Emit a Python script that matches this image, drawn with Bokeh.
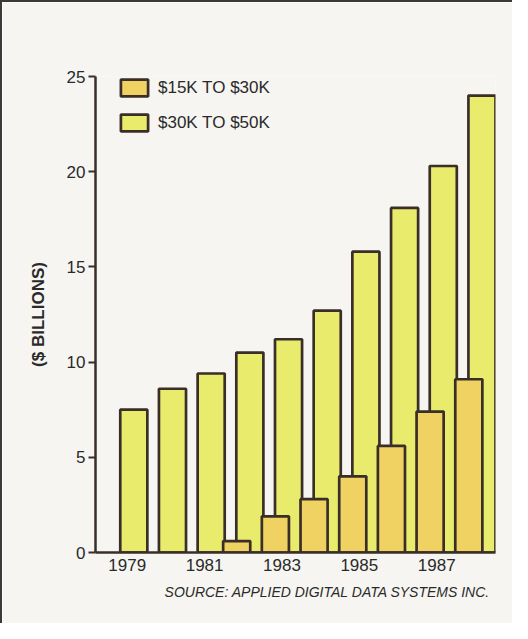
from bokeh.plotting import figure
from bokeh.models import Legend, LegendItem, FixedTicker, Title, ColumnDataSource
from bokeh.transform import dodge
from bokeh.embed import file_html
from bokeh.resources import INLINE

# ---- data ----
years = [1979, 1980, 1981, 1982, 1983, 1984, 1985, 1986, 1987, 1988]
high_values = [7.5, 8.6, 9.4, 10.5, 11.2, 12.7, 15.8, 18.1, 20.3, 24.0]   # $30K TO $50K
low_years = [1982, 1983, 1984, 1985, 1986, 1987, 1988]
low_values = [0.6, 1.9, 2.8, 4.0, 5.6, 7.4, 9.1]                          # $15K TO $30K
tick_years = [1979, 1981, 1983, 1985, 1987]
y_ticks = [0, 5, 10, 15, 20, 25]
high_label = "$30K TO $50K"
low_label = "$15K TO $30K"
y_label = "($ BILLIONS)"
source_note = "SOURCE: APPLIED DIGITAL DATA SYSTEMS INC."

FONT = "Liberation Sans"
INK = "#3a2e28"
BG = "#f6f5f1"
GREEN = "#e8eb6c"
ORANGE = "#f0d263"
OFFSET = 0.17
BAR_W = 0.7

high_src = ColumnDataSource(dict(year=years, value=high_values))
low_src = ColumnDataSource(dict(year=low_years, value=low_values))

p = figure(width=512, height=623, x_range=(1978.18, 1988.52), y_range=(0, 25),
           output_backend="svg", toolbar_location=None,
           min_border_left=93, min_border_right=19, min_border_top=74, min_border_bottom=73)
p.background_fill_color = BG
p.border_fill_color = BG
p.outline_line_color = None
p.grid.grid_line_color = None
p.styles = {"border-top": "2px solid #3a3a3a", "border-left": "2px solid #3a3a3a"}

g = p.vbar(x=dodge("year", OFFSET), top="value", width=BAR_W, bottom=0, source=high_src,
           fill_color=GREEN, line_color=INK, line_width=2.7)
o = p.vbar(x=dodge("year", -OFFSET), top="value", width=BAR_W, bottom=0, source=low_src,
           fill_color=ORANGE, line_color=INK, line_width=2.7)

# axes
p.yaxis.ticker = FixedTicker(ticks=y_ticks)
p.yaxis.minor_tick_line_color = None
p.yaxis.major_tick_out = 7
p.yaxis.major_tick_in = 0
p.yaxis.major_tick_line_width = 2
p.yaxis.major_tick_line_color = INK
p.yaxis.axis_line_width = 2.5
p.yaxis.axis_line_color = INK
p.yaxis.major_label_standoff = 3
p.yaxis.axis_label = y_label
p.yaxis.axis_label_text_font = FONT
p.yaxis.axis_label_text_font_style = "bold"
p.yaxis.axis_label_text_font_size = "17px"
p.yaxis.axis_label_text_color = "#2a2a2a"
p.yaxis.axis_label_standoff = 16

p.xaxis.ticker = FixedTicker(ticks=tick_years)
p.xaxis.minor_tick_line_color = None
p.xaxis.major_tick_line_color = None
p.xaxis.axis_line_width = 2.5
p.xaxis.axis_line_color = INK
p.xaxis.major_label_standoff = 0

for ax in (p.xaxis, p.yaxis):
    ax.major_label_text_font = FONT
    ax.major_label_text_font_size = "17px"
    ax.major_label_text_color = "#2a2a2a"

legend = Legend(items=[LegendItem(label=low_label, renderers=[o]),
                       LegendItem(label=high_label, renderers=[g])],
                location=(22, 419), padding=0, margin=0, spacing=14,
                glyph_width=34, glyph_height=21, label_standoff=7,
                label_text_font=FONT, label_text_font_size="17px", label_text_color="#2a2a2a",
                background_fill_alpha=0, border_line_color=None)
p.add_layout(legend, "center")

note = Title(text=source_note, align="right", offset=5, standoff=16,
             text_font=FONT, text_font_style="italic", text_font_size="14px",
             text_color="#2a2a2a")
p.add_layout(note, "below")

open("out.html", "w").write(file_html(p, INLINE))
